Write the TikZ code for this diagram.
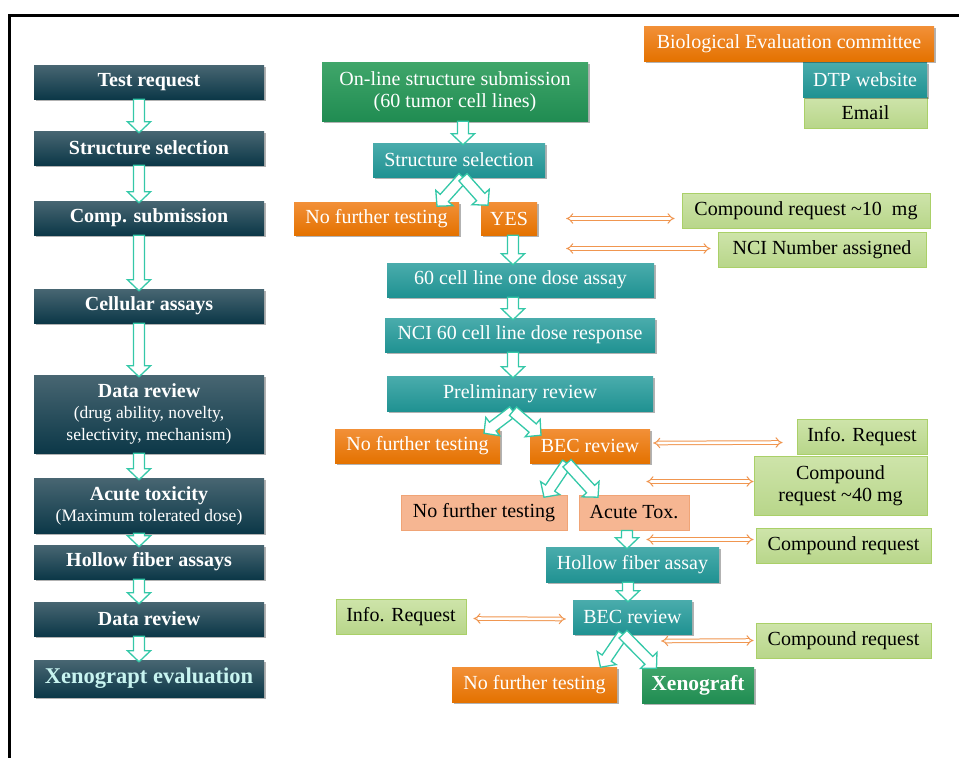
\documentclass[tikz,border=0pt]{standalone}
\usepackage{fontspec}
\setmainfont{Liberation Serif}
\usetikzlibrary{calc,arrows.meta,shadows}
\definecolor{darkA}{RGB}{72,102,114}
\definecolor{darkB}{RGB}{12,56,72}
\definecolor{tealA}{RGB}{74,172,172}
\definecolor{tealB}{RGB}{32,146,146}
\definecolor{orgA}{RGB}{242,144,56}
\definecolor{orgB}{RGB}{228,114,0}
\definecolor{grnA}{RGB}{64,166,106}
\definecolor{grnB}{RGB}{32,140,82}
\definecolor{lgA}{RGB}{206,228,170}
\definecolor{lgB}{RGB}{184,214,138}
\definecolor{lgD}{RGB}{170,208,104}
\definecolor{salm}{RGB}{246,182,146}
\definecolor{salmD}{RGB}{240,164,118}
\definecolor{arrT}{RGB}{52,200,168}
\definecolor{arrO}{RGB}{240,150,80}
\definecolor{xcyan}{RGB}{200,244,240}
\newcommand\bx[7]{\node[#2, minimum width={(#5-#3)*1pt}, minimum height={(#6-#4)*1pt}] (#1) at ({(#3+#5)/2},{(#4+#6)/2}) {#7};}
\newcommand\barr[2]{%
  \coordinate (bS) at (#1); \coordinate (bT) at (#2);
  \coordinate (bH) at ($(bT)!11pt!(bS)$);
  \filldraw[barrow] ($(bS)!5.5pt!90:(bT)$) -- ($(bH)!5.5pt!90:(bT)$) -- ($(bH)!11.5pt!90:(bT)$) -- (bT) -- ($(bH)!11.5pt!-90:(bT)$) -- ($(bH)!5.5pt!-90:(bT)$) -- ($(bS)!5.5pt!-90:(bT)$) -- cycle;}
\newcommand\subf{\mdseries\fontsize{17.5}{21}\selectfont}
\tikzset{
  shad/.style={drop shadow={shadow xshift=1.5pt, shadow yshift=-2pt, opacity=0.3, fill=black}},
  box/.style={draw=none, inner sep=0pt, align=center, font=\fontsize{20}{22}\selectfont},
  darkbox/.style={box, shad, top color=darkA, bottom color=darkB, text=white, font=\bfseries\fontsize{20}{22}\selectfont},
  tealbox/.style={box, shad, top color=tealA, bottom color=tealB, text=white},
  orgbox/.style={box, shad, top color=orgA, bottom color=orgB, text=white},
  grnbox/.style={box, shad, top color=grnA, bottom color=grnB, text=white},
  lgbox/.style={box, top color=lgA, bottom color=lgB, draw=lgD, line width=0.8pt, text=black},
  salmbox/.style={box, fill=salm, draw=salmD, line width=0.8pt, text=black},
  barrow/.style={draw=arrT, fill=white, line width=1.3pt, line join=miter},
  oarr/.style={draw=arrO, double=white, double distance=2.6pt, line width=1pt, {Implies[scale=1.2]}-{Implies[scale=1.2]}}
}
\begin{document}
\begin{tikzpicture}[x=1pt,y=-1pt]
\useasboundingbox (0,0) rectangle (959,758);
\fill[white] (0,0) rectangle (959,758);
\draw[line width=3pt] (9.5,758) -- (9.5,15.5) -- (959,15.5);
% left column
\bx{l1}{darkbox}{34}{65}{264}{99}{Test request}
\bx{l2}{darkbox}{34}{131}{264}{165}{Structure selection}
\bx{l3}{darkbox}{34}{201}{264}{235}{Comp. submission}
\bx{l4}{darkbox}{34}{289}{264}{323}{Cellular assays}
\bx{l5}{darkbox}{34}{375}{264}{453}{Data review\\[-1pt] \subf(drug ability, novelty,\\ \subf selectivity, mechanism)}
\bx{l6}{darkbox}{34}{478}{264}{533}{Acute toxicity\\[-1pt] \subf(Maximum tolerated dose)}
\bx{l7}{darkbox}{34}{545}{264}{579}{Hollow fiber assays}
\bx{l8}{darkbox}{34}{602}{264}{636}{Data review}
\bx{l9}{darkbox, text=xcyan, font=\bfseries\fontsize{22.5}{24}\selectfont}{34}{660}{264}{697}{Xenograpt evaluation}
\barr{$(l1.south)+(-10,0)$}{$(l2.north)+(-10,2)$}
\barr{$(l2.south)+(-10,0)$}{$(l3.north)+(-10,2)$}
\barr{$(l3.south)+(-10,0)$}{$(l4.north)+(-10,2)$}
\barr{$(l4.south)+(-10,0)$}{$(l5.north)+(-10,2)$}
\barr{$(l5.south)+(-10,0)$}{$(l6.north)+(-10,2)$}
\barr{$(l6.south)+(-10,0)$}{$(l7.north)+(-10,2)$}
\barr{$(l7.south)+(-10,0)$}{$(l8.north)+(-10,2)$}
\barr{$(l8.south)+(-10,0)$}{$(l9.north)+(-10,2)$}
% legend
\bx{em}{lgbox}{804}{97}{927}{128}{Email}
\bx{dtp}{tealbox}{803}{62}{927}{97}{DTP website}
\bx{bec}{orgbox}{644}{26}{934}{61}{Biological Evaluation committee}
% right flow
\bx{ol}{grnbox}{322}{62}{588}{121}{On-line structure submission\\(60 tumor cell lines)}
\bx{ss}{tealbox}{373}{143}{545}{177}{Structure selection}
\bx{nf1}{orgbox}{294}{202}{459}{235}{No further testing}
\bx{yes}{orgbox}{481}{202}{537}{235}{YES}
\bx{od}{tealbox}{387}{263}{654}{297}{60 cell line one dose assay}
\bx{n60}{tealbox}{385}{318}{655}{352}{NCI 60 cell line dose response}
\bx{pr}{tealbox}{387}{376}{653}{411}{Preliminary review}
\bx{nf2}{orgbox}{335}{429}{500}{463}{No further testing}
\bx{bo}{orgbox}{530}{429}{650}{463}{BEC review}
\bx{nf3}{salmbox}{401}{495}{567}{530}{No further testing}
\bx{at}{salmbox}{579}{495}{689}{530}{Acute Tox.}
\bx{hf}{tealbox}{546}{547}{719}{582}{Hollow fiber assay}
\bx{bt}{tealbox}{573}{600}{692}{634}{BEC review}
\bx{ir2}{lgbox}{336}{599}{466}{634}{Info. Request}
\bx{nf4}{orgbox}{452}{667}{617}{702}{No further testing}
\bx{xg}{grnbox, font=\bfseries\fontsize{21.5}{23}\selectfont}{642}{667}{754}{703}{Xenograft}
% right info boxes
\bx{c10}{lgbox}{682}{193}{930}{228}{Compound request \textasciitilde10\ \ mg}
\bx{nci}{lgbox}{718}{232}{926}{267}{NCI Number assigned}
\bx{ir1}{lgbox}{797}{419}{927}{454}{Info. Request}
\bx{c40}{lgbox}{754}{456}{927}{515}{Compound\\request \textasciitilde40 mg}
\bx{cr1}{lgbox}{756}{528}{931}{563}{Compound request}
\bx{cr2}{lgbox}{756}{623}{931}{658}{Compound request}
% block arrows right
\barr{$(ol.south)+(8,0)$}{$(ss.north)+(4,2)$}
\barr{$(ss.south)+(4,0)$}{$(ss.south)+(-22,29)$}
\barr{$(ss.south)+(4,0)$}{$(ss.south)+(29,28)$}
\barr{$(yes.south)+(4,0)$}{$(od.north)+(-7.5,2)$}
\barr{$(od.south)+(-7.5,0)$}{$(n60.north)+(-7,2)$}
\barr{$(n60.south)+(-7,0)$}{$(pr.north)+(-7,2)$}
\barr{$(pr.south)+(-7,0)$}{$(pr.south)+(-36,22)$}
\barr{$(pr.south)+(-7,0)$}{$(pr.south)+(21,24)$}
\barr{$(bo.south)+(-23,0)$}{$(bo.south)+(-46,34)$}
\barr{$(bo.south)+(-23,0)$}{$(bo.south)+(8,34)$}
\barr{$(at.south)+(-7,0)$}{$(hf.north)+(-5.5,2)$}
\barr{$(hf.south)+(-4.5,0)$}{$(bt.north)+(-4.5,2)$}
\barr{$(bt.south)+(-9.5,0)$}{$(bt.south)+(-32,33)$}
\barr{$(bt.south)+(-9.5,0)$}{$(bt.south)+(24,34)$}
% double arrows
\draw[oarr] ($(yes.east)+(29,0)$) -- ($(c10.west)+(-7,8)$);
\draw[oarr] ($(yes.east)+(29,30)$) -- ($(nci.west)+(-7,-1)$);
\draw[oarr] ($(bo.east)+(3,-3)$) -- ($(ir1.west)+(-14,6)$);
\draw[oarr] ($(at.east)+(-43,-31)$) -- ($(c40.west)+(0,-4)$);
\draw[oarr] ($(at.east)+(-43,27)$) -- ($(cr1.west)+(-2,-6)$);
\draw[oarr] ($(bt.east)+(-31,24)$) -- ($(cr2.west)+(-2,0)$);
\draw[oarr] ($(ir2.east)+(7,2)$) -- ($(bt.west)+(-7,2)$);
\end{tikzpicture}
\end{document}
